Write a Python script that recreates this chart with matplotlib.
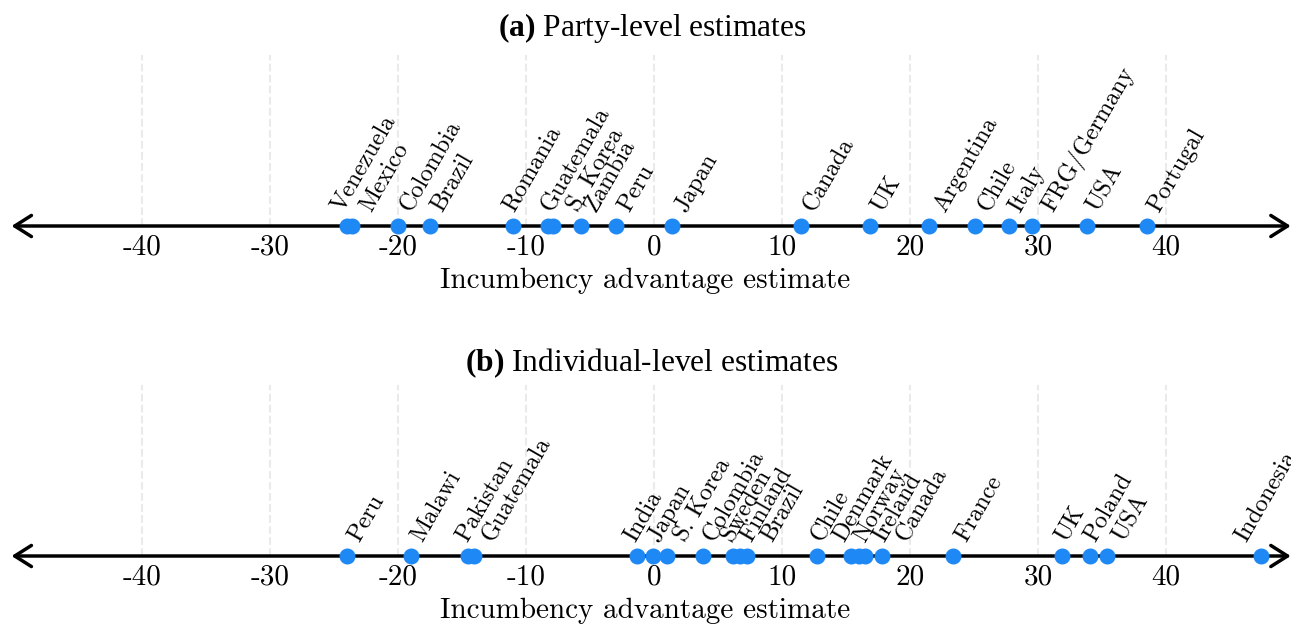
import matplotlib
matplotlib.use("Agg")
import matplotlib.pyplot as plt

# Party-level incumbency advantage estimates (percentage points)
party_countries = ['Venezuela', 'Mexico', 'Colombia', 'Brazil', 'Romania', 'Guatemala',
                   'S. Korea', 'Zambia', 'Peru', 'Japan', 'Canada', 'UK', 'Argentina',
                   'Chile', 'Italy', 'FRG/Germany', 'USA', 'Portugal']
party_est = [-24.0, -23.6, -20.0, -17.5, -11.0, -8.3, -7.9, -5.7, -3.0, 1.4,
             11.5, 16.9, 21.5, 25.1, 27.7, 29.5, 33.8, 38.5]

# Individual-level estimates
indiv_countries = ['Peru', 'Malawi', 'Pakistan', 'Guatemala', 'India', 'Japan', 'S. Korea',
                   'Colombia', 'Sweden', 'Finland', 'Brazil', 'Chile', 'Denmark', 'Norway',
                   'Ireland', 'Canada', 'France', 'UK', 'Poland', 'USA', 'Indonesia']
indiv_est = [-24.0, -19.0, -14.5, -14.1, -1.35, -0.1, 1.0, 3.8, 6.2, 6.7, 7.3,
             12.7, 15.4, 16.0, 16.5, 17.8, 23.4, 31.9, 34.1, 35.4, 47.4]

# horizontal nudges (pixels) that keep neighbouring labels apart
party_nudge = [-19, 5, -1, -2, -13, -10, 12, 1, 0, 0, -1, -2, 2, 0, -2, 7, -3, -2]
indiv_nudge = [-2, -3, -15, 6, -15, -8, 5, -2, -15, -3, 11, -8, -21, -8, 5, 11,
               -1, -10, -9, 3, -28]

ticks = [-40, -30, -20, -10, 0, 10, 20, 30, 40]
tick_labels = ['-40', '-30', '-20', '-10', '0', '10', '20', '30', '40']

plt.rcParams['axes.unicode_minus'] = False
plt.rcParams['mathtext.fontset'] = 'custom'
plt.rcParams['mathtext.bf'] = 'Liberation Serif:bold'
plt.rcParams['mathtext.rm'] = 'Liberation Serif'

dot_color = '#1e88f5'
body_font = 'cmr10'
title_font = 'Liberation Serif'

fig = plt.figure(figsize=(12.91, 6.24), dpi=100)


def number_line(rect, names, values, nudges, title, title_pad):
    ax = fig.add_axes(rect)
    ax.set_xlim(-51.1, 49.77)
    ax.set_ylim(0, 1)
    for s in ax.spines.values():
        s.set_visible(False)
    ax.set_yticks([])
    ax.set_xticks(ticks)
    ax.set_xticklabels(tick_labels, fontfamily=body_font, fontsize=21)
    ax.tick_params(axis='x', length=0, pad=6)
    ax.grid(axis='x', linestyle='--', color='#eaeaea', lw=1.5)
    ax.set_axisbelow(True)

    # number line with arrow heads at both ends
    ax.annotate('', xy=(-50.2, 0), xytext=(49.75, 0), xycoords='data',
                arrowprops=dict(arrowstyle='<->,head_length=0.6,head_width=0.38',
                                lw=2.5, color='black', mutation_scale=20,
                                shrinkA=0, shrinkB=0),
                annotation_clip=False)
    ax.plot(values, [0] * len(values), 'o', color=dot_color, ms=10.5,
            clip_on=False, zorder=5)
    for name, v, dx in zip(names, values, nudges):
        ax.annotate(name, xy=(v, 0), xytext=(dx + 14, 13), textcoords='offset pixels',
                    rotation=60, rotation_mode='anchor', ha='left', va='baseline',
                    fontfamily=body_font, fontsize=17.5, annotation_clip=False)
    ax.set_xlabel('Incumbency advantage estimate', fontfamily=body_font,
                  fontsize=21, labelpad=5)
    ax.set_title(title, fontfamily=title_font, fontsize=22.7, pad=title_pad, x=0.505)
    return ax


number_line([0, 1 - 226 / 624, 1, 171 / 624], party_countries, party_est,
            party_nudge, r'$\mathbf{(a)}$ Party-level estimates', 14)
number_line([0, 1 - 556 / 624, 1, 171 / 624], indiv_countries, indiv_est,
            indiv_nudge, r'$\mathbf{(b)}$ Individual-level estimates', 10)

fig.savefig('out.png', dpi=100)
